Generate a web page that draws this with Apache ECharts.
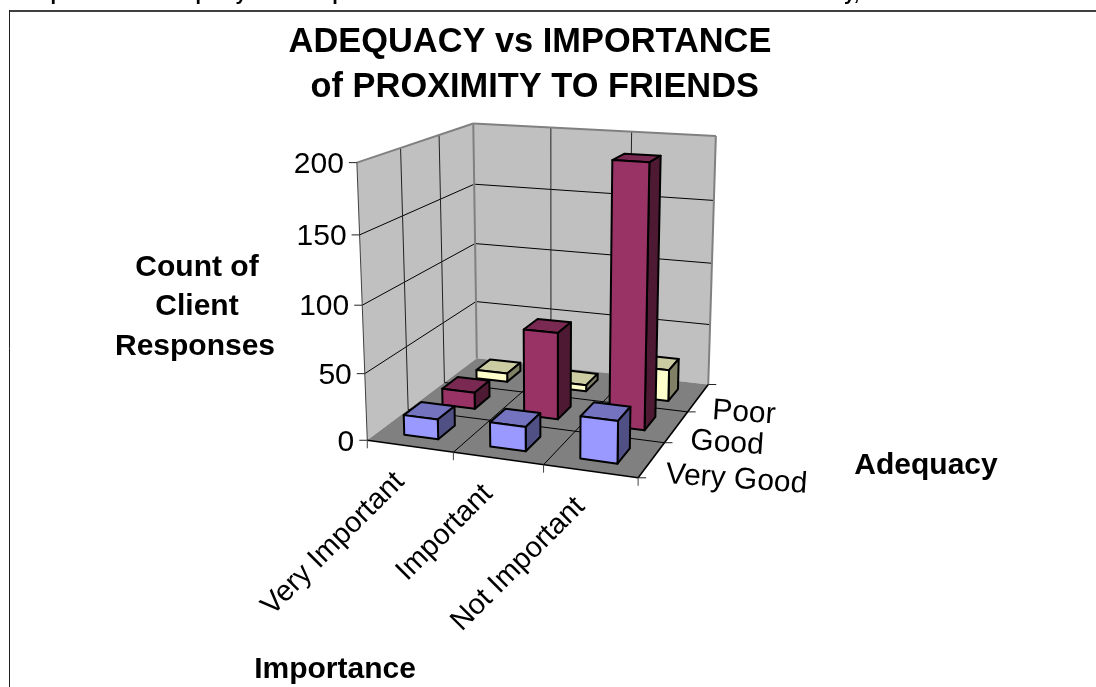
<!DOCTYPE html>
<html>
<head>
<meta charset="utf-8">
<style>html,body{margin:0;padding:0;background:#fff}#chart{width:1096px;height:687px}</style>
<script src="https://cdn.jsdelivr.net/npm/echarts@6/dist/echarts.min.js"></script>
</head>
<body>
<div id="chart"></div>
<script>
// Categories and counts
const importanceLabels = ['Very Important', 'Important', 'Not Important'];
const adequacyLabels = ['Very Good', 'Good', 'Poor'];
const valueTicks = [0, 50, 100, 150, 200];
const veryGoodCounts = [15, 18, 31];
const goodCounts = [13, 67, 197];
const poorCounts = [7, 5, 25];

// Face shades for each adequacy row: front, top, side
const rowShades = [
  ['#9999FF', '#7373BF', '#505085'],
  ['#993366', '#7A2952', '#4D1933'],
  ['#FFFFCC', '#CCCCA3', '#808066']
];

const FONT = '"Liberation Sans", Arial, sans-serif';
const VALUE_MAX = valueTicks[valueTicks.length - 1];
const BAR_MARGIN_U = 0.3;
const BAR_MARGIN_V = 0.28;

// Camera calibration: box coordinates (importance, adequacy, count) to screen points
const calibration = [
  [0, 0, 0, 367, 440], [1, 0, 0, 452.7, 452.3], [2, 0, 0, 543.3, 465], [3, 0, 0, 638, 477],
  [3, 1, 0, 665, 443.3], [3, 2, 0, 688, 411.7], [3, 3, 0, 709, 384], [0, 3, 0, 477, 357],
  [0, 0, 50, 365, 374], [0, 0, 100, 361.7, 305], [0, 0, 150, 360, 236], [0, 0, 200, 357.7, 161.7],
  [0, 3, 50, 476, 302.7], [0, 3, 100, 475, 244], [0, 3, 150, 474, 185], [0, 3, 200, 473.3, 122.3],
  [3, 3, 100, 711, 264.3], [3, 3, 200, 715.7, 135.7]
];

function solveLinear(A, b) {
  const n = b.length;
  for (let i = 0; i < n; i++) {
    let pivot = i;
    for (let r = i + 1; r < n; r++) if (Math.abs(A[r][i]) > Math.abs(A[pivot][i])) pivot = r;
    [A[i], A[pivot]] = [A[pivot], A[i]];
    [b[i], b[pivot]] = [b[pivot], b[i]];
    for (let r = i + 1; r < n; r++) {
      const f = A[r][i] / A[i][i];
      for (let c = i; c < n; c++) A[r][c] -= f * A[i][c];
      b[r] -= f * b[i];
    }
  }
  const x = new Array(n).fill(0);
  for (let i = n - 1; i >= 0; i--) {
    let s = b[i];
    for (let c = i + 1; c < n; c++) s -= A[i][c] * x[c];
    x[i] = s / A[i][i];
  }
  return x;
}

// Least-squares fit of a 3x4 projective camera
function fitCamera(points) {
  const rows = [], rhs = [];
  points.forEach(([u, v, n, px, py]) => {
    const w = n / VALUE_MAX, x = px / 1000, y = py / 1000;
    rows.push([u, v, w, 1, 0, 0, 0, 0, -x * u, -x * v, -x * w]); rhs.push(x);
    rows.push([0, 0, 0, 0, u, v, w, 1, -y * u, -y * v, -y * w]); rhs.push(y);
  });
  const N = 11;
  const AtA = Array.from({ length: N }, () => new Array(N).fill(0));
  const Atb = new Array(N).fill(0);
  rows.forEach((r, k) => {
    for (let i = 0; i < N; i++) {
      Atb[i] += r[i] * rhs[k];
      for (let j = 0; j < N; j++) AtA[i][j] += r[i] * r[j];
    }
  });
  return solveLinear(AtA, Atb);
}
const cam = fitCamera(calibration);

// Box coordinates to the hidden screen-aligned axes
function project(u, v, n) {
  const w = n / VALUE_MAX;
  const d = cam[8] * u + cam[9] * v + cam[10] * w + 1;
  return [
    1000 * (cam[0] * u + cam[1] * v + cam[2] * w + cam[3]) / d,
    1000 * (cam[4] * u + cam[5] * v + cam[6] * w + cam[7]) / d
  ];
}

function poly(api, pts, fill, stroke, lineWidth) {
  return {
    type: 'polygon',
    shape: { points: pts.map(p => api.coord(p)) },
    style: { fill: fill || 'none', stroke: stroke || 'none', lineWidth: lineWidth || 0, lineJoin: 'round' }
  };
}
function seg(api, a, b, stroke, lineWidth) {
  const p = api.coord(a), q = api.coord(b);
  return {
    type: 'line',
    shape: { x1: p[0], y1: p[1], x2: q[0], y2: q[1] },
    style: { stroke, lineWidth }
  };
}
function label(api, at, text, opts) {
  const p = api.coord(at);
  return {
    type: 'text', x: p[0], y: p[1], rotation: opts.rotation || 0,
    style: {
      text, fill: '#000', align: opts.align || 'center', verticalAlign: 'middle',
      font: (opts.bold ? 'bold ' : '') + opts.size + 'px ' + FONT
    }
  };
}

// Walls, floor, gridlines and ticks
function renderFrame(params, api) {
  const U = importanceLabels.length, V = adequacyLabels.length, T = VALUE_MAX;
  const kids = [];
  const GRAY = '#808080';
  kids.push(poly(api, [project(0, 0, 0), project(0, V, 0), project(0, V, T), project(0, 0, T)], '#C0C0C0'));
  kids.push(poly(api, [project(0, V, 0), project(U, V, 0), project(U, V, T), project(0, V, T)], '#C0C0C0'));
  kids.push(poly(api, [project(0, 0, 0), project(U, 0, 0), project(U, V, 0), project(0, V, 0)], '#808080'));
  valueTicks.forEach(t => {
    if (t > 0 && t < T) {
      kids.push(seg(api, project(0, 0, t), project(0, V, t), '#000', 1));
      kids.push(seg(api, project(0, V, t), project(U, V, t), '#000', 1));
    }
  });
  for (let i = 1; i < U; i++) {
    kids.push(seg(api, project(i, V, 0), project(i, V, T), '#222', 1));
    kids.push(seg(api, project(i, 0, 0), project(i, V, 0), '#000', 1));
  }
  for (let j = 1; j < V; j++) {
    kids.push(seg(api, project(0, j, 0), project(0, j, T), '#222', 1));
    kids.push(seg(api, project(0, j, 0), project(U, j, 0), '#000', 1));
  }
  kids.push(seg(api, project(0, 0, T), project(0, V, T), GRAY, 2));
  kids.push(seg(api, project(0, V, T), project(U, V, T), GRAY, 2));
  kids.push(seg(api, project(U, V, T), project(U, V, 0), GRAY, 2));
  kids.push(seg(api, project(0, V, T), project(0, V, 0), GRAY, 2));
  kids.push(seg(api, project(0, 0, T), project(0, 0, 0), '#404040', 1));
  kids.push(seg(api, project(0, 0, 0), project(U, 0, 0), '#000', 1.6));
  kids.push(seg(api, project(U, 0, 0), project(U, V, 0), '#000', 1.6));

  valueTicks.forEach(t => {
    const p = project(0, 0, t);
    kids.push(seg(api, p, [p[0] - 8, p[1]], '#222', 1));
  });
  for (let i = 0; i <= U; i++) {
    const p = project(i, 0, 0);
    kids.push(seg(api, p, [p[0], p[1] + 8], '#444', 1));
  }
  for (let j = 0; j <= V; j++) {
    const p = project(U, j, 0);
    kids.push(seg(api, p, [p[0] + 8, p[1]], '#222', 1));
  }
  return { type: 'group', children: kids };
}

// One box for each count
function renderBar(params, api) {
  const u = api.value(0), v = api.value(1), n = api.value(2);
  const u0 = u + BAR_MARGIN_U, u1 = u + 1 - BAR_MARGIN_U;
  const v0 = v + BAR_MARGIN_V, v1 = v + 1 - BAR_MARGIN_V;
  const shades = rowShades[v];
  const E = '#000', W = 2;
  return {
    type: 'group',
    children: [
      poly(api, [project(u0, v0, n), project(u1, v0, n), project(u1, v1, n), project(u0, v1, n)], shades[1], E, W),
      poly(api, [project(u1, v0, 0), project(u1, v1, 0), project(u1, v1, n), project(u1, v0, n)], shades[2], E, W),
      poly(api, [project(u0, v0, 0), project(u1, v0, 0), project(u1, v0, n), project(u0, v0, n)], shades[0], E, W)
    ]
  };
}

// Back rows first, so nearer boxes paint over farther ones
const rows = [veryGoodCounts, goodCounts, poorCounts];
const barData = [];
for (let j = rows.length - 1; j >= 0; j--) {
  rows[j].forEach((count, i) => barData.push([i, j, count]));
}

// Pixel nudges from the tick midpoints to each axis label
const importanceLabelNudge = [-10, 31];
const adequacyLabelNudge = [[14, 15], [14, 14], [14, 13]];

function renderLabels(params, api) {
  const U = importanceLabels.length;
  const kids = [];
  valueTicks.forEach(t => {
    const p = project(0, 0, t);
    kids.push(label(api, [p[0] - 13, p[1] + 2], String(t), { size: 30, align: 'right' }));
  });
  importanceLabels.forEach((name, i) => {
    const p = project(i + 0.5, 0, 0);
    kids.push(label(api, [p[0] + importanceLabelNudge[0], p[1] + importanceLabelNudge[1]], name,
      { size: 29, align: 'right', rotation: Math.PI / 4 }));
  });
  adequacyLabels.forEach((name, j) => {
    const p = project(U, j + 0.5, 0);
    const d = adequacyLabelNudge[j];
    kids.push(label(api, [p[0] + d[0], p[1] + d[1]], name,
      { size: 30, align: 'left', rotation: -4 * Math.PI / 180 }));
  });
  kids.push(label(api, [197, 268], 'Count of', { size: 30, bold: true }));
  kids.push(label(api, [197, 307], 'Client', { size: 30, bold: true }));
  kids.push(label(api, [195, 347], 'Responses', { size: 30, bold: true }));
  kids.push(label(api, [926, 466], 'Adequacy', { size: 30, bold: true }));
  kids.push(label(api, [335, 670], 'Importance', { size: 30, bold: true }));
  return { type: 'group', children: kids };
}

const chart = echarts.init(document.getElementById('chart'), null, { renderer: 'canvas' });
chart.setOption({
  animation: false,
  backgroundColor: '#fff',
  title: {
    text: 'ADEQUACY vs IMPORTANCE\n of PROXIMITY TO FRIENDS',
    left: 525, top: 15, textAlign: 'center',
    textStyle: { fontFamily: FONT, fontWeight: 'bold', fontSize: 34.4, lineHeight: 45, color: '#000' }
  },
  grid: { left: 0, right: 0, top: 0, bottom: 0 },
  xAxis: { type: 'value', min: 0, max: 1096, show: false },
  yAxis: { type: 'value', min: 0, max: 687, inverse: true, show: false },
  graphic: [
    { type: 'line', shape: { x1: 9, y1: 11, x2: 1096, y2: 11 }, style: { stroke: '#404040', lineWidth: 2 } },
    { type: 'line', shape: { x1: 9.5, y1: 10, x2: 9.5, y2: 687 }, style: { stroke: '#202020', lineWidth: 1 } },
    { type: 'text', x: 16, y: -16, style: { text: 'Graph', font: 'bold 20px ' + FONT, fill: '#000' } },
    { type: 'text', x: 151, y: -16, style: { text: 'Adequacy', font: 'bold 20px ' + FONT, fill: '#000' } },
    { type: 'text', x: 309, y: -16, style: { text: 'Importance', font: 'bold 20px ' + FONT, fill: '#000' } },
    { type: 'text', x: 764, y: -16, style: { text: 'Proximity,', font: 'bold 20px ' + FONT, fill: '#000' } }
  ],
  series: [
    { type: 'custom', coordinateSystem: 'cartesian2d', clip: false, silent: true, z: 1, data: [[0]], renderItem: renderFrame },
    { type: 'custom', coordinateSystem: 'cartesian2d', clip: false, silent: true, z: 2, data: barData, renderItem: renderBar, encode: { x: 0, y: 2 } },
    { type: 'custom', coordinateSystem: 'cartesian2d', clip: false, silent: true, z: 3, data: [[0]], renderItem: renderLabels }
  ]
});
</script>
</body>
</html>
